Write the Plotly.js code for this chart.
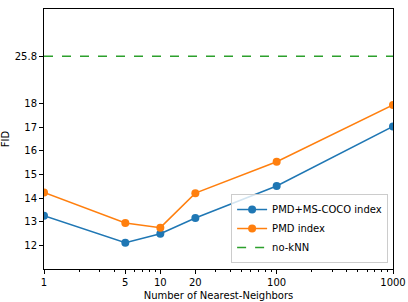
<!DOCTYPE html>
<html>
<head>
<meta charset="utf-8">
<script src="https://cdn.plot.ly/plotly-3.0.1.min.js"></script>
<style>html,body{margin:0;padding:0;background:#fff;}#chart{width:408px;height:302px;}</style>
</head>
<body>
<div id="chart"></div>
<script>
const neighbors = [1, 5, 10, 20, 100, 1000];
const fidPmdCoco = [13.25, 12.11, 12.49, 13.16, 14.51, 17.03];
const fidPmd = [14.24, 12.95, 12.75, 14.21, 15.54, 17.94];
const noKnnFid = 25.8;
const noKnnAxisPos = 20; // broken-axis position where 25.8 is drawn
const xTickVals = [1, 5, 10, 20, 100, 1000];
const xTickText = ['1', '5', '10', '20', '100', '1000'];
const yTickVals = [12, 13, 14, 15, 16, 17, 18, noKnnAxisPos];
const yTickText = ['12', '13', '14', '15', '16', '17', '18', String(noKnnFid)];
const xMinor = [2,3,4,6,7,8,9,30,40,50,60,70,80,90,200,300,400,500,600,700,800,900];

const font = {family: 'DejaVu Sans', size: 10, color: '#000'};
const traces = [
  {x: neighbors, y: fidPmdCoco, name: 'PMD+MS-COCO index', mode: 'lines+markers',
   line: {color: '#1f77b4', width: 1.5}, marker: {color: '#1f77b4', size: 8}},
  {x: neighbors, y: fidPmd, name: 'PMD index', mode: 'lines+markers',
   line: {color: '#ff7f0e', width: 1.5}, marker: {color: '#ff7f0e', size: 8}},
  {x: [neighbors[0], neighbors[neighbors.length-1]], y: [noKnnAxisPos, noKnnAxisPos], name: 'no-kNN', mode: 'lines',
   line: {color: '#2ca02c', width: 1.5, dash: 'dash'}}
];
const layout = {
  width: 408, height: 302,
  margin: {l: 44, r: 15, t: 9, b: 33},
  paper_bgcolor: '#fff', plot_bgcolor: '#fff',
  font: font,
  showlegend: true,
  legend: {x: 0.986, y: 0.023, xanchor: 'right', yanchor: 'bottom', bgcolor: 'rgba(255,255,255,0.8)',
           bordercolor: '#ccc', borderwidth: 1, font: font, tracegroupgap: 0},
  xaxis: {type: 'log', range: [0, 3], tickmode: 'array', tickvals: xTickVals, ticktext: xTickText,
          showgrid: false, zeroline: false, showline: true, mirror: true, linecolor: '#000', linewidth: 1,
          ticks: 'outside', ticklen: 4, tickcolor: '#000', tickfont: font,
          minor: {tickmode: 'array', tickvals: xMinor, ticks: 'outside', ticklen: 2, tickcolor: '#000', showgrid: false},
          title: {text: 'Number of Nearest-Neighbors', font: font, standoff: 4}},
  yaxis: {range: [11, 22], tickmode: 'array', tickvals: yTickVals, ticktext: yTickText,
          showgrid: false, zeroline: false, showline: true, mirror: true, linecolor: '#000', linewidth: 1,
          ticks: 'outside', ticklen: 4, tickcolor: '#000', tickfont: font,
          title: {text: 'FID', font: font, standoff: 6}}
};
Plotly.newPlot('chart', traces, layout, {displayModeBar: false, staticPlot: true});
</script>
</body>
</html>
